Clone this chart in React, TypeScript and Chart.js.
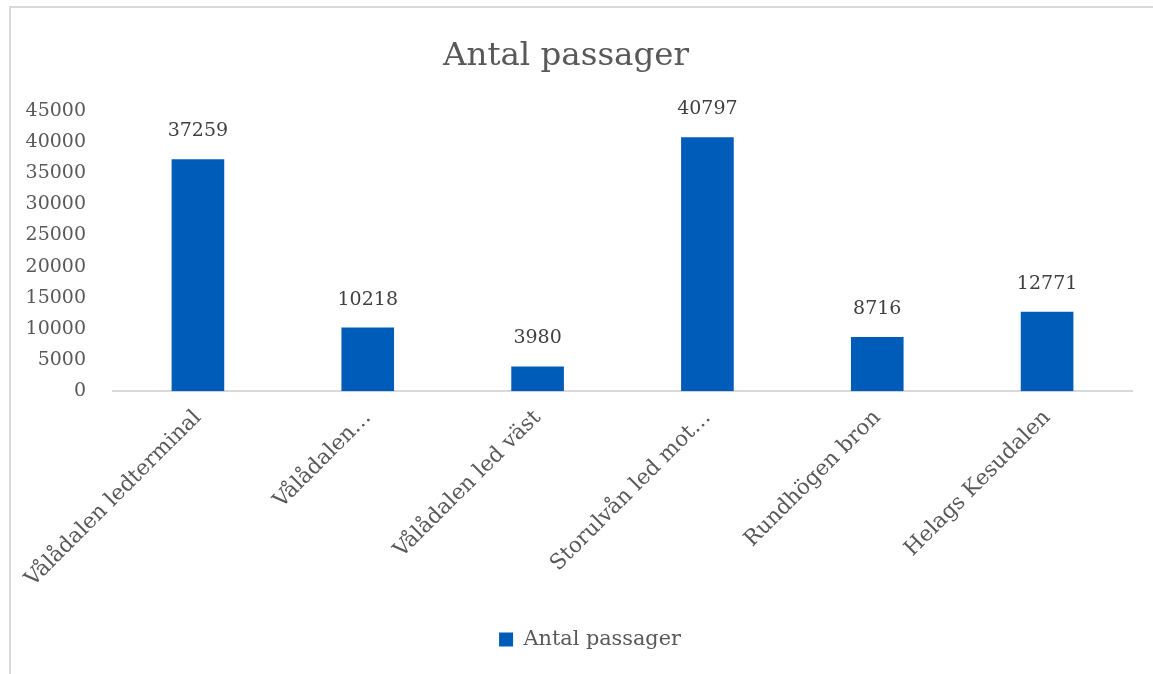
import React, { useEffect, useRef } from "react";
import { Chart, registerables } from "chart.js";

Chart.register(...registerables);

const categories = [
  "Vålådalen ledterminal",
  "Vålådalen…",
  "Vålådalen led väst",
  "Storulvån led mot…",
  "Rundhögen bron",
  "Helags Kesudalen",
];
const values = [37259, 10218, 3980, 40797, 8716, 12771];
const seriesName = "Antal passager";
const titleText = "Antal passager";
const yMin = 0;
const yMax = 45000;
const yStep = 5000;

const FONT = '"DejaVu Serif", "Liberation Serif", serif';

export default function App() {
  const ref = useRef<HTMLCanvasElement>(null);

  useEffect(() => {
    if (!ref.current) return;
    const valueLabels = {
      id: "valueLabels",
      afterDatasetsDraw(chart: any) {
        const ctx = chart.ctx;
        const meta = chart.getDatasetMeta(0);
        ctx.save();
        ctx.font = `19px ${FONT}`;
        ctx.fillStyle = "#404040";
        ctx.textAlign = "center";
        ctx.textBaseline = "middle";
        meta.data.forEach((bar: any, i: number) => {
          ctx.fillText(String(values[i]), bar.x, bar.y - 28);
        });
        ctx.restore();
      },
    };
    const legendShift = {
      id: "legendShift",
      afterLayout(chart: any) {
        if (chart.legend) {
          chart.legend.left += 24;
          chart.legend.right += 24;
        }
      },
    };

    const chart = new Chart(ref.current, {
      type: "bar",
      data: {
        labels: categories,
        datasets: [
          {
            label: seriesName,
            data: values,
            backgroundColor: "#005CB9",
            categoryPercentage: 0.62,
            barPercentage: 0.5,
          },
        ],
      },
      options: {
        responsive: false,
        animation: false,
        layout: { padding: { left: 0, right: 21, top: 0, bottom: 14 } },
        plugins: {
          title: {
            display: true,
            text: titleText,
            color: "#595959",
            font: { family: FONT, size: 32.5, weight: "normal" },
            padding: { top: 37, bottom: 35 },
          },
          legend: {
            position: "bottom",
            labels: {
              boxWidth: 14,
              boxHeight: 14,
              color: "#595959",
              font: { family: FONT, size: 20.8 },
              padding: 10,
            },
          },
          tooltip: { enabled: false },
        },
        scales: {
          x: {
            grid: { display: false, drawTicks: false },
            border: { display: true, color: "#d9d9d9", width: 2 },
            ticks: {
              minRotation: 45,
              maxRotation: 45,
              autoSkip: false,
              padding: 14,
              color: "#595959",
              font: { family: FONT, size: 21.5 },
            },
            afterFit: (s: any) => {
              s.height = 228;
            },
          },
          y: {
            min: yMin,
            max: yMax,
            ticks: {
              stepSize: yStep,
              padding: 27,
              color: "#595959",
              font: { family: FONT, size: 19 },
              callback: (v: any) => String(v),
            },
            grid: { display: false, drawTicks: false },
            border: { display: false },
            afterFit: (s: any) => {
              s.width = 113;
            },
          },
        },
      },
      plugins: [valueLabels, legendShift],
    });
    return () => chart.destroy();
  }, []);

  return (
    <div style={{ position: "fixed", left: 0, top: 0, width: 1153, height: 674, background: "#ffffff", overflow: "hidden" }}>
      <div
        style={{
          position: "absolute",
          left: 9,
          top: 6,
          width: 1200,
          height: 700,
          border: "2px solid #d9d9d9",
          boxSizing: "border-box",
        }}
      />
      <canvas
        ref={ref}
        width={1153}
        height={674}
        style={{ position: "absolute", left: 0, top: 0, display: "block" }}
      />
    </div>
  );
}
